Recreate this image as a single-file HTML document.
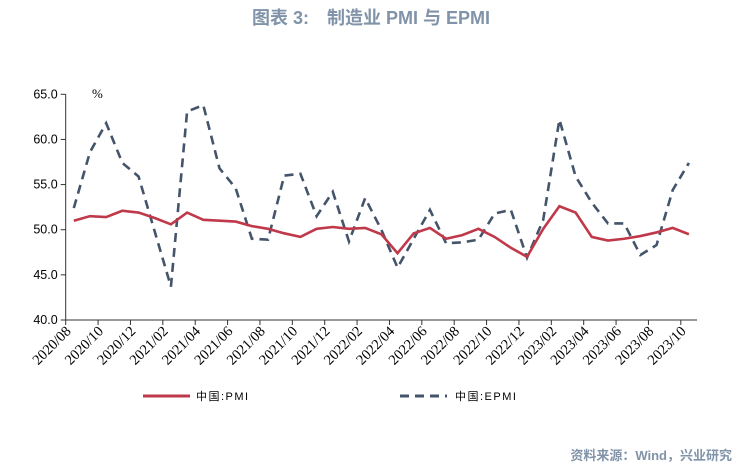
<!DOCTYPE html>
<html><head><meta charset="utf-8"><style>
body{margin:0;background:#fff;}
svg{display:block;font-family:"Liberation Sans","Noto Sans CJK SC",sans-serif;}
</style></head><body>
<svg id="c" width="742" height="471">
<text x="371" y="24" text-anchor="middle" font-size="18" font-weight="bold" fill="#8093a8">图表 3:　制造业 PMI 与 EPMI</text>
<text x="92" y="98" font-size="13" fill="#000" font-family="Liberation Serif,serif">%</text>
<g id="axes"></g>
<g id="series"></g>
<g>
<line x1="143" y1="396" x2="190" y2="396" stroke="#c0394a" stroke-width="3"/>
<text x="196" y="400" font-size="11" fill="#000" letter-spacing="1.5">中国:PMI</text>
<line x1="400" y1="396" x2="447" y2="396" stroke="#44546a" stroke-width="3" stroke-dasharray="9,6"/>
<text x="455" y="400" font-size="11" fill="#000" letter-spacing="1.5">中国:EPMI</text>
</g>
<text x="732" y="460" text-anchor="end" font-size="13" font-weight="bold" fill="#8093a8">资料来源：Wind，兴业研究</text>
</svg>
<script>
const months=["2020/08","2020/09","2020/10","2020/11","2020/12","2021/01","2021/02","2021/03","2021/04","2021/05","2021/06","2021/07","2021/08","2021/09","2021/10","2021/11","2021/12","2022/01","2022/02","2022/03","2022/04","2022/05","2022/06","2022/07","2022/08","2022/09","2022/10","2022/11","2022/12","2023/01","2023/02","2023/03","2023/04","2023/05","2023/06","2023/07","2023/08","2023/09","2023/10"];
const pmi=[51.0,51.5,51.4,52.1,51.9,51.3,50.6,51.9,51.1,51.0,50.9,50.4,50.1,49.6,49.2,50.1,50.3,50.1,50.2,49.5,47.4,49.6,50.2,49.0,49.4,50.1,49.2,48.0,47.0,50.1,52.6,51.9,49.2,48.8,49.0,49.3,49.7,50.2,49.5];
const epmi=[52.4,58.6,61.8,57.4,55.9,49.8,43.7,63.1,63.8,56.8,54.6,49.0,48.9,56.0,56.2,51.5,54.2,48.7,53.5,50.0,45.8,49.0,52.2,48.5,48.6,48.9,51.8,52.2,46.9,51.1,62.2,55.9,53.0,50.7,50.7,47.2,48.3,54.4,57.4];
const yTicks=[40,45,50,55,60,65];
const NS="http://www.w3.org/2000/svg";
const x0=65.7,x1=697,yTop=94.3,yBot=320,yMin=40,yMax=65;
const step=(x1-x0)/months.length;
const xs=i=>x0+step*(i+0.5);
const ys=v=>yBot-(v-yMin)/(yMax-yMin)*(yBot-yTop);
function mk(t,a,p){const e=document.createElementNS(NS,t);for(const k in a)e.setAttribute(k,a[k]);p.appendChild(e);return e;}
const ax=document.getElementById('axes'),se=document.getElementById('series');
let l=mk('line',{x1:x0,y1:yTop,x2:x0,y2:yBot,stroke:'#333','stroke-width':1},ax);


l=mk('line',{x1:x0,y1:yBot,x2:x1,y2:yBot,stroke:'#333','stroke-width':1},ax);


yTicks.forEach(v=>{
 const t=mk('line',{x1:x0-5,y1:ys(v),x2:x0,y2:ys(v),stroke:'#333'},ax);
 
 
 const tx=mk('text',{x:x0-8,y:ys(v)+4,'text-anchor':'end','font-size':12.5,fill:'#000'},ax);
 tx.textContent=v.toFixed(1);
 
 
});
months.forEach((m,i)=>{
 if(i%2)return;
 const x=x0+step*i;
 const t=mk('line',{x1:x,y1:yBot,x2:x,y2:yBot+5,stroke:'#333'},ax);
 
 
 const tx=mk('text',{x:x+6,y:yBot+12,'text-anchor':'end','font-size':14.5,fill:'#000','font-family':'Liberation Serif,serif',transform:`rotate(-45 ${x+6} ${yBot+12})`},ax);
 tx.textContent=m;
 
 
});
let p=mk('polyline',{points:epmi.map((v,i)=>xs(i)+','+ys(v)).join(' '),fill:'none',stroke:'#44546a','stroke-width':2.6,'stroke-dasharray':'9,6'},se);


p=mk('polyline',{points:pmi.map((v,i)=>xs(i)+','+ys(v)).join(' '),fill:'none',stroke:'#c0394a','stroke-width':2.6},se);


</script>
</body></html>
